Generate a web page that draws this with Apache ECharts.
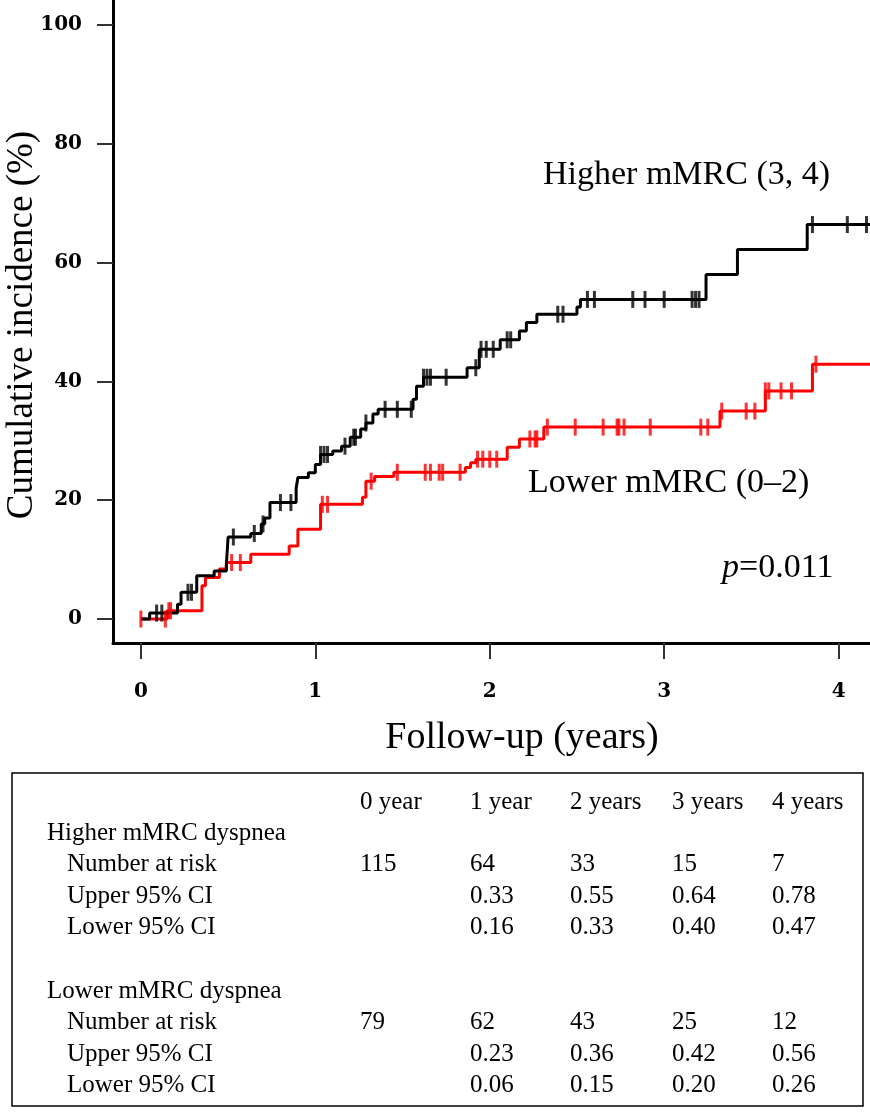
<!DOCTYPE html>
<html>
<head>
<meta charset="utf-8">
<script src="https://cdn.jsdelivr.net/npm/echarts@6/dist/echarts.min.js"></script>
<style>
html,body{margin:0;padding:0;background:#fff;}
#chart{width:870px;height:1112px;}
</style>
</head>
<body>
<div id="chart"></div>
<script>
// ---- Data (years, cumulative incidence %) ----
var higherStepT = [0, 0.05, 0.21, 0.23, 0.32, 0.42, 0.49, 0.50, 0.63, 0.69, 0.71, 0.74, 0.89, 0.90, 0.96, 1.00, 1.03, 1.10, 1.15, 1.20, 1.26, 1.29, 1.33, 1.36, 1.56, 1.58, 1.62, 1.87, 1.94, 2.06, 2.17, 2.21, 2.27, 2.50, 2.52, 3.24, 3.42, 3.82, 4.18];
var higherStepV = [0, 1.0, 2.5, 4.5, 7.3, 8.1, 9.2, 13.8, 14.4, 16.0, 17.0, 19.6, 22.0, 23.8, 24.6, 26.0, 27.7, 28.3, 29.1, 30.6, 32.0, 33.0, 34.5, 35.3, 37.0, 39.2, 40.7, 42.3, 45.4, 47.0, 48.5, 49.9, 51.3, 52.5, 53.8, 58.0, 62.2, 66.4, 66.4];
var higherCensorT = [0.09, 0.12, 0.27, 0.29, 0.53, 0.65, 0.70, 0.80, 0.86, 1.03, 1.05, 1.07, 1.17, 1.22, 1.23, 1.29, 1.40, 1.47, 1.55, 1.62, 1.64, 1.66, 1.75, 1.92, 1.95, 1.98, 2.02, 2.10, 2.12, 2.39, 2.42, 2.56, 2.60, 2.82, 2.89, 3.00, 3.16, 3.18, 3.20, 3.85, 4.05, 4.16];

var lowerStepT = [0, 0.15, 0.35, 0.37, 0.45, 0.49, 0.63, 0.85, 0.90, 1.03, 1.27, 1.29, 1.34, 1.45, 1.86, 1.89, 1.92, 2.10, 2.17, 2.31, 3.32, 3.58, 3.85, 4.18];
var lowerStepV = [0, 1.4, 5.6, 7.0, 8.4, 9.5, 10.9, 12.3, 15.1, 19.3, 20.5, 23.2, 24.0, 24.7, 25.5, 26.3, 26.9, 28.9, 30.3, 32.3, 35.0, 38.4, 42.9, 42.9];
var lowerCensorT = [0, 0.14, 0.16, 0.17, 0.52, 0.57, 1.04, 1.07, 1.32, 1.47, 1.63, 1.66, 1.71, 1.73, 1.83, 1.93, 1.96, 2.00, 2.04, 2.23, 2.26, 2.27, 2.33, 2.49, 2.65, 2.73, 2.74, 2.77, 2.92, 3.21, 3.25, 3.33, 3.47, 3.52, 3.58, 3.60, 3.67, 3.73, 3.87];

var xTickValues = [0, 1, 2, 3, 4];
var yTickValues = [0, 20, 40, 60, 80, 100];

var seriesNames = ['Higher mMRC (3, 4)', 'Lower mMRC (0\u20132)'];
var pValueText = '=0.011';

// ---- Risk table ----
var tableColHeaders = ['0 year', '1 year', '2 years', '3 years', '4 years'];
var tableGroups = ['Higher mMRC dyspnea', 'Lower mMRC dyspnea'];
var tableRowLabels = ['Number at risk', 'Upper 95% CI', 'Lower 95% CI'];
var higherAtRisk = [115, 64, 33, 15, 7];
var higherUpperCI = [null, 0.33, 0.55, 0.64, 0.78];
var higherLowerCI = [null, 0.16, 0.33, 0.40, 0.47];
var lowerAtRisk = [79, 62, 43, 25, 12];
var lowerUpperCI = [null, 0.23, 0.36, 0.42, 0.56];
var lowerLowerCI = [null, 0.06, 0.15, 0.20, 0.26];

// ---- Build ----
function zip(a, b) { return a.map(function (v, i) { return [v, b[i]]; }); }
function stepValueAt(ts, vs, t) {
  var val = vs[0];
  for (var i = 0; i < ts.length; i++) { if (ts[i] <= t + 1e-9) val = vs[i]; }
  return val;
}
function censorData(cts, ts, vs) { return cts.map(function (t) { return [t, stepValueAt(ts, vs, t)]; }); }

var SERIF = '"Liberation Serif", "Times New Roman", serif';
var TICKFONT = '"DejaVu Serif", serif';
var BLACK = '#000000', RED = '#ff0000';

var graphics = [];
function txt(x, y, s, size, align, extra) {
  var o = { type: 'text', x: x, y: y, silent: true,
    style: { text: s, fill: '#000', font: size + 'px ' + SERIF, textAlign: align || 'left', textVerticalAlign: 'middle' } };
  if (extra) { for (var k in extra) o[k] = extra[k]; }
  graphics.push(o);
}
// titles and labels
txt(22, 325, 'Cumulative incidence (%)', 37, 'center', { rotation: Math.PI / 2 });
txt(522, 738, 'Follow-up (years)', 38, 'center');
txt(543, 175, seriesNames[0], 34, 'left');
txt(528, 483, seriesNames[1], 34, 'left');
graphics.push({ type: 'text', x: 722, y: 568, silent: true,
  style: { text: '{i|p}' + pValueText, fill: '#000', font: '34px ' + SERIF, textVerticalAlign: 'middle',
    rich: { i: { fontStyle: 'italic', fontFamily: SERIF, fontSize: 34 } } } });

// table
graphics.push({ type: 'rect', silent: true, shape: { x: 12, y: 773, width: 851, height: 333 },
  style: { fill: 'none', stroke: '#000', lineWidth: 1.5 } });
var colX = [360, 470, 570, 672, 772];
var TF = 25;
tableColHeaders.forEach(function (h, i) { txt(colX[i], 802, h, TF, 'left'); });
function fmt(v, isInt) { return v == null ? '' : (isInt ? String(v) : v.toFixed(2)); }
var groupRows = [
  { y0: 833, rows: [higherAtRisk, higherUpperCI, higherLowerCI] },
  { y0: 991, rows: [lowerAtRisk, lowerUpperCI, lowerLowerCI] }
];
var rowGap = 31.5;
groupRows.forEach(function (g, gi) {
  txt(47, g.y0, tableGroups[gi], TF, 'left');
  g.rows.forEach(function (vals, ri) {
    var y = g.y0 + rowGap * (ri + 1);
    txt(67, y, tableRowLabels[ri], TF, 'left');
    vals.forEach(function (v, ci) { var s = fmt(v, ri === 0); if (s) txt(colX[ci], y, s, TF, 'left'); });
  });
});

var chart = echarts.init(document.getElementById('chart'), null, { renderer: 'canvas' });
chart.setOption({
  backgroundColor: '#ffffff',
  animation: false,
  grid: { left: 113, top: 0, right: 0, bottom: 469, containLabel: false },
  xAxis: {
    type: 'value', min: -0.16, max: 4.18,
    splitLine: { show: false },
    axisLine: { show: true, onZero: false, lineStyle: { color: '#000', width: 3 } },
    axisTick: { show: true, customValues: xTickValues, length: 16, lineStyle: { color: '#333', width: 2 } },
    axisLabel: { customValues: xTickValues, margin: 39, color: '#000', fontFamily: TICKFONT, fontWeight: 'bold', fontSize: 20 }
  },
  yAxis: {
    type: 'value', min: -4.04, max: 104.2,
    splitLine: { show: false },
    axisLine: { show: true, onZero: false, lineStyle: { color: '#000', width: 3 } },
    axisTick: { show: true, customValues: yTickValues, length: 16, lineStyle: { color: '#333', width: 2 } },
    axisLabel: { customValues: yTickValues, margin: 31, color: '#000', fontFamily: TICKFONT, fontWeight: 'bold', fontSize: 20 }
  },
  series: [
    { name: seriesNames[1], type: 'line', step: 'end', showSymbol: false, data: zip(lowerStepT, lowerStepV),
      lineStyle: { color: RED, width: 3 }, z: 3 },
    { name: seriesNames[0], type: 'line', step: 'end', showSymbol: false, data: zip(higherStepT, higherStepV),
      lineStyle: { color: BLACK, width: 3 }, z: 4 },
    { type: 'scatter', data: censorData(lowerCensorT, lowerStepT, lowerStepV), symbol: 'rect', symbolSize: [3, 17],
      itemStyle: { color: RED }, z: 5 },
    { type: 'scatter', data: censorData(higherCensorT, higherStepT, higherStepV), symbol: 'rect', symbolSize: [3, 17],
      itemStyle: { color: BLACK }, z: 6 }
  ],
  graphic: graphics
});
</script>
</body>
</html>
